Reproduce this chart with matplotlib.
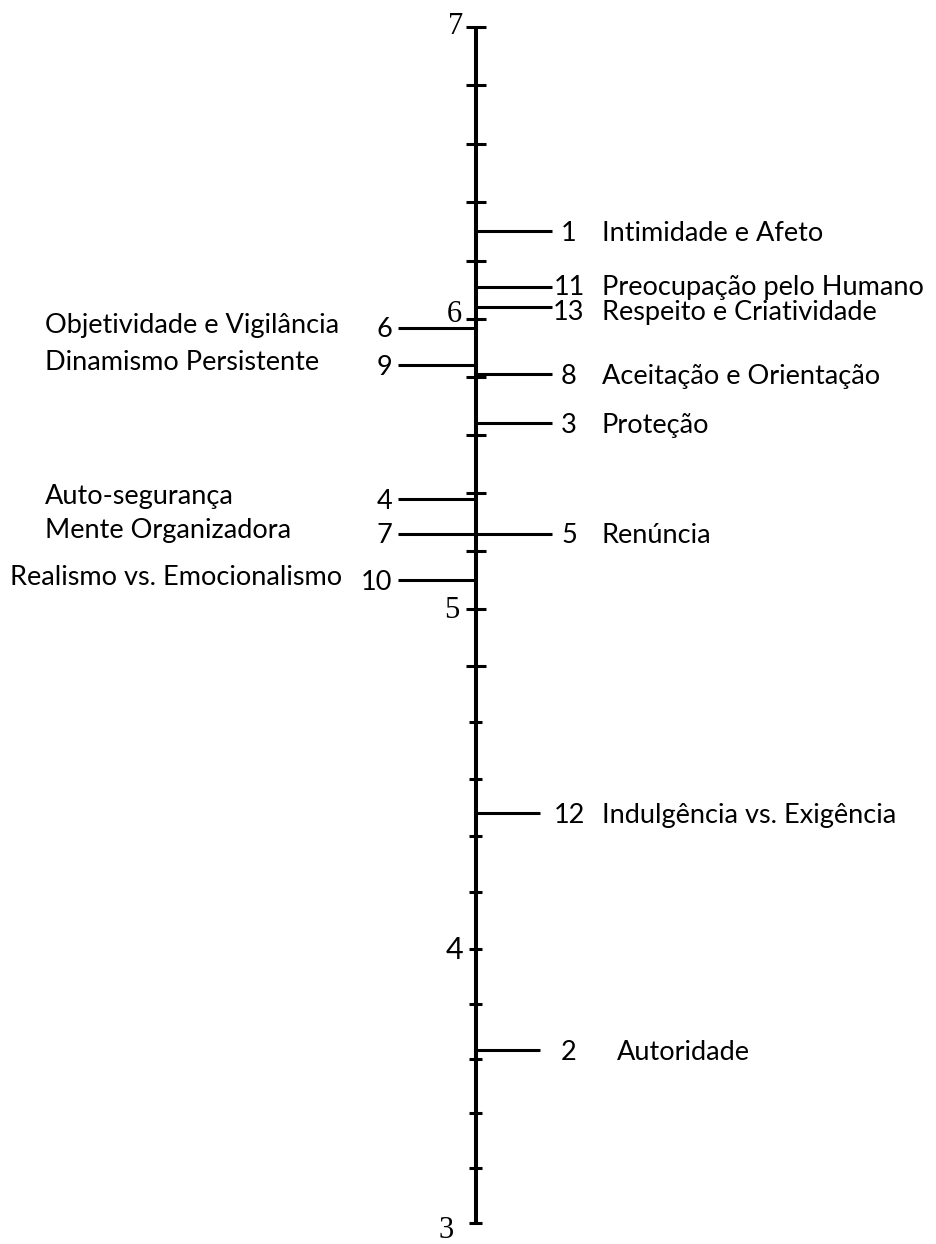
import numpy as np
import matplotlib
matplotlib.use("Agg")
import matplotlib.pyplot as plt

# ---------------- data ----------------
factor_ids = [1, 2, 3, 4, 5, 6, 7, 8, 9, 10, 11, 12, 13]
factor_names = [
    "Intimidade e Afeto",
    "Autoridade",
    "Proteção",
    "Auto-segurança",
    "Renúncia",
    "Objetividade e Vigilância",
    "Mente Organizadora",
    "Aceitação e Orientação",
    "Dinamismo Persistente",
    "Realismo vs. Emocionalismo",
    "Preocupação pelo Humano",
    "Indulgência vs. Exigência",
    "Respeito e Criatividade",
]
factor_values = [6.30, 3.63, 5.64, 5.38, 5.26, 5.97, 5.26, 5.81, 5.84, 5.10, 6.11, 4.40, 6.04]
factor_sides = ["right", "right", "right", "left", "right", "left", "left",
                "right", "left", "left", "right", "right", "right"]

axis_values = [3, 4, 5, 6, 7]
axis_labels = ["3", "4", "5", "6", "7"]
minor_divisions = [5, 6, 5, 5]   # subdivisions of 3-4, 4-5, 5-6, 6-7

# ---------------- layout / style ----------------
W, H = 937, 1244
AX_X = 476
TEXT_FONT = "Lato"
TEXT_SIZE = 19.5
# hand-drawn scale: pixel height (from bottom) of each integer mark
scale_vals = np.array([2, 3, 4, 5, 6, 7, 8], dtype=float)
scale_pix = np.array([-253, 21, 295, 635, 925, 1217, 1509], dtype=float)


def fwd(v):
    return np.interp(v, scale_vals, scale_pix)


def inv(t):
    return np.interp(t, scale_pix, scale_vals)


fig = plt.figure(figsize=(W / 100, H / 100), dpi=100)
ax = fig.add_axes([0, 0, 1, 1])
ax.set_xlim(0, W)
ax.set_yscale("function", functions=(fwd, inv))
ax.set_ylim(inv(0), inv(H))
ax.axis("off")

# main axis
ax.plot([AX_X, AX_X], [axis_values[0], axis_values[-1]], color="black", lw=2.9,
        solid_capstyle="butt", zorder=3)

# ticks
tick_vals = []
for lo, hi, n in zip(axis_values[:-1], axis_values[1:], minor_divisions):
    tick_vals.extend(np.linspace(lo, hi, n + 1)[:-1])
tick_vals.append(axis_values[-1])
for tv in tick_vals:
    half = 10 if tv > 4.75 else 6.5
    ax.plot([AX_X - half, AX_X + half], [tv, tv], color="black", lw=2.2,
            solid_capstyle="butt", zorder=3)

# axis labels
label_fonts = ["Liberation Serif", "Lato", "Liberation Serif", "Liberation Serif", "Liberation Serif"]
label_dx = [-22, -13, -17, -14, -13]
label_dy = [-7, -1, -2, 5, 1]
for v, lab, fnt, dx, dy in zip(axis_values, axis_labels, label_fonts, label_dx, label_dy):
    ax.annotate(lab, (AX_X, v), xytext=(dx * 0.72, dy * 0.72), textcoords="offset points",
                ha="right", va="center", fontsize=22, family=fnt, color="black")

# small vertical nudges (px) of the crowded labels 11 and 13
nudge = {11: 1.5, 13: -2.5}

# factor lines and labels
for fid, name, val, side in zip(factor_ids, factor_names, factor_values, factor_sides):
    dy = -7 + nudge.get(fid, 0) * 0.72
    if side == "right":
        x_end = 552 if val > 5 else 540
        ax.plot([AX_X, x_end], [val, val], color="black", lw=2.2, solid_capstyle="butt", zorder=2)
        ax.annotate(str(fid), (569, val), xytext=(0, dy), textcoords="offset points",
                    ha="center", va="baseline", fontsize=TEXT_SIZE, family=TEXT_FONT)
        name_x = 617 if val < 4 else 602
        ax.annotate(name, (name_x, val), xytext=(0, dy), textcoords="offset points",
                    ha="left", va="baseline", fontsize=TEXT_SIZE, family=TEXT_FONT)
    else:
        ax.plot([398, AX_X], [val, val], color="black", lw=2.2, solid_capstyle="butt", zorder=2)
        ax.annotate(str(fid), (392, val), xytext=(0, dy), textcoords="offset points",
                    ha="right", va="baseline", fontsize=TEXT_SIZE, family=TEXT_FONT)
        name_x = 10 if len(name) > 25 else 45
        ax.annotate(name, (name_x, val), xytext=(0, -3.5), textcoords="offset points",
                    ha="left", va="baseline", fontsize=TEXT_SIZE, family=TEXT_FONT)

fig.savefig("out.png", dpi=100)
